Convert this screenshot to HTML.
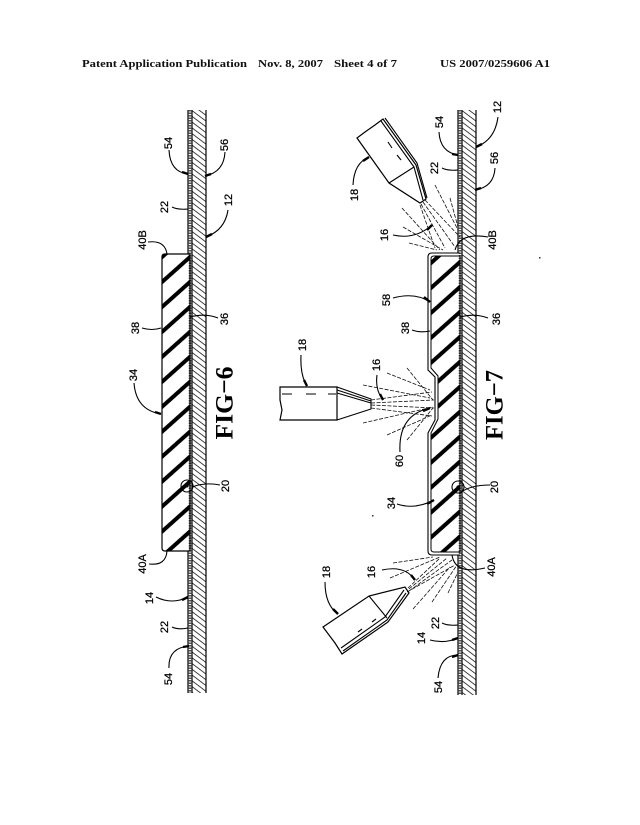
<!DOCTYPE html>
<html><head><meta charset="utf-8"><style>
html,body{margin:0;padding:0;background:#fff}
svg{display:block}
.h{font:bold 10.5px "Liberation Serif",serif;fill:#111}
.l{font:11px "Liberation Sans",sans-serif;fill:#000;stroke:#000;stroke-width:.25;text-anchor:middle;dominant-baseline:central}
.f{font:bold 25px "Liberation Serif",serif;fill:#000;text-anchor:middle;dominant-baseline:central}
.o{fill:none;stroke:#000;stroke-width:1.2}
.a{fill:none;stroke:#000;stroke-width:1.1}
.s{fill:none;stroke:#111;stroke-width:.8;stroke-dasharray:4 1.5}
</style></head><body>
<svg width="640" height="825" viewBox="0 0 640 825" xmlns="http://www.w3.org/2000/svg">
<defs>
<pattern id="thick" patternUnits="userSpaceOnUse" width="100" height="18.6" patternTransform="translate(190 257) rotate(-41.8)"><rect x="0" y="-2" width="100" height="4" fill="#000"/><rect x="0" y="16.6" width="100" height="4" fill="#000"/></pattern>
<pattern id="thick2" patternUnits="userSpaceOnUse" width="100" height="18.6" patternTransform="translate(460 262) rotate(-41.8)"><rect x="0" y="-2" width="100" height="4" fill="#000"/><rect x="0" y="16.6" width="100" height="4" fill="#000"/></pattern>
<pattern id="thin" patternUnits="userSpaceOnUse" width="100" height="4.6" patternTransform="translate(192 110) rotate(37)"><rect x="0" y="0" width="100" height=".9" fill="#333"/></pattern>
<pattern id="thin2" patternUnits="userSpaceOnUse" width="100" height="4.6" patternTransform="translate(462 110) rotate(37)"><rect x="0" y="0" width="100" height=".9" fill="#333"/></pattern>
</defs>
<rect width="640" height="825" fill="#fff"/>

<text class="h" x="82" y="67" textLength="165" lengthAdjust="spacingAndGlyphs">Patent Application Publication</text>
<text class="h" x="258" y="67" textLength="65" lengthAdjust="spacingAndGlyphs">Nov. 8, 2007</text>
<text class="h" x="334" y="67" textLength="63" lengthAdjust="spacingAndGlyphs">Sheet 4 of 7</text>
<text class="h" x="440" y="67" textLength="110" lengthAdjust="spacingAndGlyphs">US 2007/0259606 A1</text>

<!-- FIG 6 -->
<rect x="192" y="110" width="14" height="583" fill="url(#thin)"/>
<path class="o" d="M188 110V254M188 551V693M192 110V693M206 110V693"/>
<path d="M190 110V693" fill="none" stroke="#555" stroke-width="2.6" stroke-dasharray="1.5 1"/>
<path d="M190 254H165Q162 254 162 257V548Q162 551 165 551H190Z" fill="url(#thick)" stroke="#000" stroke-width="1.2"/>
<circle cx="187" cy="486" r="6" class="a"/>
<circle cx="187" cy="486" r="1.5"/>
<g class="a">
<path d="M169 150Q170 172 188 174M225 152Q224 172 205 176M172 207Q178 210 188 209M228 210Q225 230 206 237M148 242Q165 240 167 254M142 328Q152 331 161 328M218 318Q205 313 190 317M134 383Q136 410 161 414M220 485Q205 482 192 487M149 564Q166 566 167 551M156 597Q172 605 188 597M172 627Q178 630 188 628M169 668Q168 648 189 646"/>
</g>
<path d="M182 172L188 174M205 176L211 174M206 237L212 234M155 412L161 414M182 600L188 597M183 647L189 646" stroke="#000" stroke-width="2.4" fill="none"/>
<g>
<text class="l" transform="translate(169 143) rotate(-90)">54</text>
<text class="l" transform="translate(225 145) rotate(-90)">56</text>
<text class="l" transform="translate(165 207) rotate(-90)">22</text>
<text class="l" transform="translate(229 200) rotate(-90)">12</text>
<text class="l" transform="translate(143 240) rotate(-90)">40B</text>
<text class="l" transform="translate(136 328) rotate(-90)">38</text>
<text class="l" transform="translate(225 319) rotate(-90)">36</text>
<text class="l" transform="translate(134 375) rotate(-90)">34</text>
<text class="l" transform="translate(226 486) rotate(-90)">20</text>
<text class="l" transform="translate(143 564) rotate(-90)">40A</text>
<text class="l" transform="translate(150 598) rotate(-90)">14</text>
<text class="l" transform="translate(165 627) rotate(-90)">22</text>
<text class="l" transform="translate(169 679) rotate(-90)">54</text>
</g>
<text class="f" transform="translate(225 403) rotate(-90)" textLength="73" lengthAdjust="spacingAndGlyphs">FIG−6</text>

<!-- FIG 7 -->
<rect x="462" y="110" width="14" height="585" fill="url(#thin2)"/>
<path class="o" d="M458 110V253M458 555V695M462 110V695M476 110V695"/>
<path d="M460 110V695" fill="none" stroke="#555" stroke-width="2.6" stroke-dasharray="1.5 1"/>
<path d="M460 256H434Q431 256 431 259V368L438 376V419L431 433V549Q431 552 434 552H460Z" fill="url(#thick2)" stroke="#000" stroke-width="1"/>
<path d="M460 253H432Q428 253 428 257V370L435 377V420L428 433V551Q428 555 432 555H460" fill="none" stroke="#000" stroke-width="1.1"/>
<circle cx="458" cy="487" r="6" class="a"/>
<circle cx="458" cy="487" r="1.5"/>

<!-- nozzle top -->
<path d="M357 138L389 183L420 203L426 199L416 165L383 119L375 125L365 132Z" fill="#fff" stroke="#000" stroke-width="1.2"/>
<path d="M389 183L414 167M385 118L417 163L427 198M381 121L414 167L423 200M388 142L392 148M397 155L401 160" class="a"/>
<!-- nozzle centre -->
<path d="M280 387H337V420H280L282 410L280 400Z" fill="#fff" stroke="#000" stroke-width="1.2"/>
<path d="M337 387L371 399V409L337 420M337 390L371 401M337 393L371 403M282 394H292M306 394H316M328 394H336" class="a"/>
<!-- nozzle bottom -->
<path d="M323 627L369 596L405 587L409 593L388 622L342 654L335 643Z" fill="#fff" stroke="#000" stroke-width="1.2"/>
<path d="M369 596L387 618M343 651L387 620L406 593M341 648L385 617L404 590M358 632L362 629M372 622L376 619" class="a"/>

<!-- spray -->
<path class="s" d="M363 385L430 398M387 373L430 390M407 368L433 400M363 423L433 407M387 435L432 415M407 440L433 408M371 400L432 392M371 403L434 400M371 405L434 408M371 408L432 416"/>
<path class="s" d="M435 185L458 230M450 198L458 227M402 208L440 250M403 227L443 250M409 243L437 250M423 202L455 247M425 200L460 237M421 204L445 248M420 205L435 248"/>
<path class="s" d="M393 563L433 557M390 578L440 557M413 609L450 567M432 602L457 565M448 593L458 572M408 588L440 558M409 589L447 558M409 591L452 560M407 592L455 565"/>

<g class="a">
<path d="M439 132Q440 152 458 155M498 117Q495 140 476 147M442 168Q448 171 458 170M495 168Q494 187 475 190M353 185Q354 163 369 157M393 235Q415 240 432 225M488 237Q460 232 455 250M393 298Q415 292 430 302M412 330Q420 333 430 331M488 318Q474 313 460 317M301 355Q300 375 307 386M377 375Q375 390 383 400M400 452Q398 415 430 408M397 504Q415 510 434 500M490 485Q470 485 460 493M325 582Q325 605 338 614M382 570Q405 565 415 580M485 568Q455 575 452 555M442 623Q448 626 458 625M430 640Q445 644 458 638M438 678Q440 655 458 655"/>
</g>
<path d="M452 154L458 155M476 147L482 144M475 190L481 188M369 157L363 161M432 225L427 230M430 302L424 297M307 386L304 380M383 400L380 394M430 408L423 411M434 500L427 504M338 614L333 609M415 580L411 575M458 638L452 640M458 655L452 657" stroke="#000" stroke-width="2.4" fill="none"/>
<g>
<text class="l" transform="translate(498 107) rotate(-90)">12</text>
<text class="l" transform="translate(440 122) rotate(-90)">54</text>
<text class="l" transform="translate(355 195) rotate(-90)">18</text>
<text class="l" transform="translate(435 168) rotate(-90)">22</text>
<text class="l" transform="translate(495 158) rotate(-90)">56</text>
<text class="l" transform="translate(385 235) rotate(-90)">16</text>
<text class="l" transform="translate(493 240) rotate(-90)">40B</text>
<text class="l" transform="translate(387 300) rotate(-90)">58</text>
<text class="l" transform="translate(406 328) rotate(-90)">38</text>
<text class="l" transform="translate(497 319) rotate(-90)">36</text>
<text class="l" transform="translate(303 345) rotate(-90)">18</text>
<text class="l" transform="translate(377 365) rotate(-90)">16</text>
<text class="l" transform="translate(400 461) rotate(-90)">60</text>
<text class="l" transform="translate(392 503) rotate(-90)">34</text>
<text class="l" transform="translate(495 487) rotate(-90)">20</text>
<text class="l" transform="translate(327 572) rotate(-90)">18</text>
<text class="l" transform="translate(372 572) rotate(-90)">16</text>
<text class="l" transform="translate(492 567) rotate(-90)">40A</text>
<text class="l" transform="translate(436 623) rotate(-90)">22</text>
<text class="l" transform="translate(422 638) rotate(-90)">14</text>
<text class="l" transform="translate(439 687) rotate(-90)">54</text>
</g>
<text class="f" transform="translate(495 405) rotate(-90)" textLength="70" lengthAdjust="spacingAndGlyphs">FIG−7</text>
<rect x="539" y="257" width="1.5" height="1.5" fill="#333"/>
<rect x="372" y="515" width="1.5" height="1.5" fill="#333"/>
</svg>
</body></html>
